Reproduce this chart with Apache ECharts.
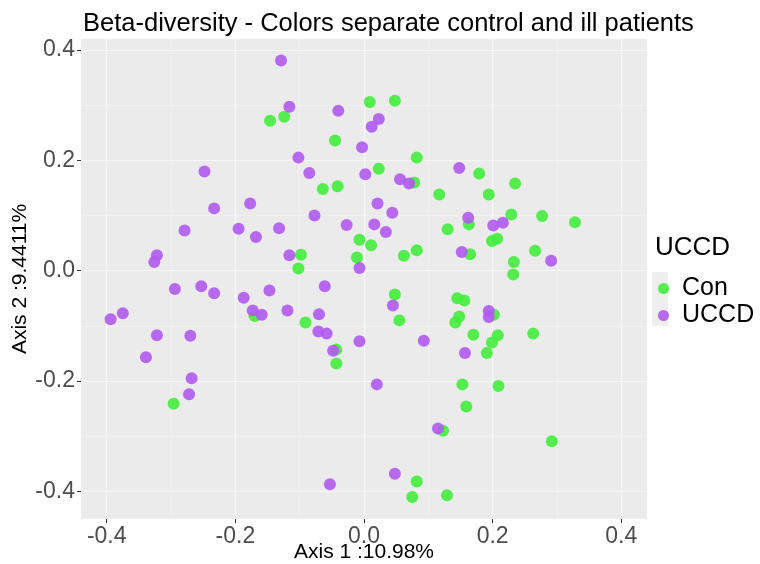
<!DOCTYPE html>
<html>
<head>
<meta charset="utf-8">
<script src="https://cdn.jsdelivr.net/npm/echarts@6/dist/echarts.min.js"></script>
<style>
  html, body { margin: 0; padding: 0; background: #fff; }
  #main { width: 760px; height: 564px; }
</style>
</head>
<body>
<div id="main"></div>
<script>
// PCoA coordinates (Axis 1, Axis 2)
const conAxis1 = [-0.146, -0.124, 0.009, 0.048, -0.045, 0.082, 0.023, -0.064, -0.041, 0.078,
  0.117, 0.179, 0.235, 0.194, -0.170, 0.130, -0.007, 0.011, 0.082, 0.062,
  -0.098, -0.102, -0.011, 0.048, 0.055, -0.091, -0.043, -0.043, 0.229, 0.277,
  0.328, 0.163, 0.199, 0.207, 0.165, 0.266, 0.233, 0.232, 0.145, 0.156,
  0.202, 0.148, 0.142, 0.170, 0.208, 0.263, 0.199, 0.191, 0.153, 0.209,
  0.159, 0.292, 0.129, 0.123, 0.082, 0.075, -0.296];
const conAxis2 = [0.272, 0.279, 0.306, 0.308, 0.236, 0.205, 0.185, 0.148, 0.153, 0.160,
  0.138, 0.176, 0.158, 0.138, -0.082, 0.075, 0.056, 0.046, 0.037, 0.027,
  0.029, 0.004, 0.024, -0.043, -0.090, -0.094, -0.143, -0.168, 0.102, 0.099,
  0.088, 0.084, 0.054, 0.058, 0.030, 0.036, 0.016, -0.007, -0.050, -0.054,
  -0.080, -0.083, -0.094, -0.116, -0.117, -0.114, -0.130, -0.149, -0.206, -0.209,
  -0.246, -0.309, -0.407, -0.290, -0.382, -0.410, -0.241];

const uccdAxis1 = [-0.248, -0.129, -0.116, -0.040, 0.023, 0.012, -0.003, -0.102, -0.085, 0.002,
  0.148, 0.056, 0.070, -0.233, -0.177, -0.279, -0.195, -0.168, -0.322, -0.326,
  -0.294, -0.253, -0.233, -0.187, -0.147, -0.173, -0.159, -0.375, -0.394, -0.322,
  -0.270, -0.339, 0.021, 0.044, -0.077, -0.132, -0.027, 0.016, 0.034, -0.116,
  -0.007, 0.152, -0.061, 0.045, -0.119, -0.070, -0.071, -0.058, -0.007, 0.093,
  -0.048, 0.162, 0.201, 0.216, 0.291, 0.194, 0.194, 0.157, 0.020, 0.115,
  0.048, -0.053, -0.268, -0.272];
const uccdAxis2 = [0.180, 0.381, 0.297, 0.290, 0.275, 0.261, 0.224, 0.205, 0.177, 0.175,
  0.186, 0.166, 0.158, 0.113, 0.122, 0.073, 0.076, 0.061, 0.028, 0.016,
  -0.033, -0.028, -0.041, -0.049, -0.036, -0.072, -0.080, -0.077, -0.088, -0.117,
  -0.118, -0.157, 0.122, 0.105, 0.100, 0.077, 0.083, 0.084, 0.070, 0.028,
  0.005, 0.034, -0.028, -0.063, -0.072, -0.079, -0.110, -0.114, -0.128, -0.127,
  -0.145, 0.096, 0.082, 0.087, 0.018, -0.073, -0.084, -0.149, -0.206, -0.286,
  -0.368, -0.387, -0.195, -0.224];

const majorTicks = [-0.4, -0.2, 0, 0.2, 0.4];
const minorTicks = [-0.3, -0.1, 0.1, 0.3];

const font = 'Liberation Sans, Arial, Helvetica, sans-serif';
const conColor = '#42EE3C';
const uccdColor = '#B05AF0';

function pairs(xs, ys) {
    return xs.map(function (x, i) { return [x, ys[i]]; });
}

let chart = echarts.init(document.getElementById('main'), null, { renderer: 'canvas' });

// main axis (labels, ticks, major grid) + hidden axis for the thin minor grid
function majorAxis(extra) {
    return Object.assign({
        type: 'value',
        axisLine: { show: false, onZero: false },
        axisTick: {
            show: true,
            length: 4,
            customValues: majorTicks,
            lineStyle: { color: '#333', width: 1 }
        },
        axisLabel: {
            customValues: majorTicks,
            color: '#4D4D4D',
            fontFamily: font,
            fontSize: 23,
            margin: 6,
            formatter: function (v) { return v.toFixed(1); }
        },
        splitLine: { show: true, lineStyle: { color: '#F7F7F7', width: 1.2 } },
        nameLocation: 'middle',
        nameMoveOverlap: false,
        nameTextStyle: { color: '#000', fontFamily: font, fontSize: 21 }
    }, extra);
}
function minorAxis(extra) {
    return Object.assign({
        type: 'value',
        axisLine: { show: false, onZero: false },
        axisTick: { show: false, customValues: minorTicks },
        axisLabel: { show: false, customValues: minorTicks },
        splitLine: { show: true, lineStyle: { color: '#F3F3F3', width: 0.6 } }
    }, extra);
}

const option = {
    backgroundColor: '#fff',
    animation: false,
    title: [
        {
            text: 'Beta-diversity - Colors separate control and ill patients',
            left: 78,
            top: 6,
            textStyle: { color: '#000', fontWeight: 'normal', fontFamily: font, fontSize: 25.5 }
        },
        {
            text: 'UCCD',
            left: 650,
            top: 230,
            textStyle: { color: '#000', fontWeight: 'normal', fontFamily: font, fontSize: 26 }
        }
    ],
    legend: {
        orient: 'vertical',
        left: 653,
        top: 271,
        icon: 'circle',
        itemWidth: 11,
        itemHeight: 11,
        itemGap: 2,
        data: ['Con', 'UCCD'],
        textStyle: { color: '#000', fontFamily: font, fontSize: 25, padding: [0, 0, 0, 8] }
    },
    graphic: [
        // grey legend key background
        { type: 'rect', left: 652, top: 272, shape: { width: 16, height: 54 }, style: { fill: '#EEEEEE' }, z: -1 }
    ],
    grid: {
        left: 81,
        right: 113,
        top: 39,
        bottom: 45,
        outerBoundsMode: 'none',
        containLabel: false,
        show: true,
        backgroundColor: '#EBEBEB',
        borderWidth: 0
    },
    xAxis: [
        majorAxis({ min: -0.44, max: 0.44, name: 'Axis 1 :10.98%', nameGap: 23 }),
        minorAxis({ min: -0.44, max: 0.44 })
    ],
    yAxis: [
        majorAxis({ min: -0.45, max: 0.42, name: 'Axis 2 :9.4411%', nameGap: 50 }),
        minorAxis({ min: -0.45, max: 0.42 })
    ],
    series: [
        {
            name: 'Con',
            type: 'scatter',
            symbolSize: 12,
            data: pairs(conAxis1, conAxis2),
            itemStyle: { color: conColor, opacity: 0.9 }
        },
        {
            name: 'UCCD',
            type: 'scatter',
            symbolSize: 12,
            data: pairs(uccdAxis1, uccdAxis2),
            itemStyle: { color: uccdColor, opacity: 0.9 }
        }
    ]
};
chart.clear();
option && chart.setOption(option);

window.addEventListener('resize', function () {
    chart.resize();
});
</script>
</body>
</html>
